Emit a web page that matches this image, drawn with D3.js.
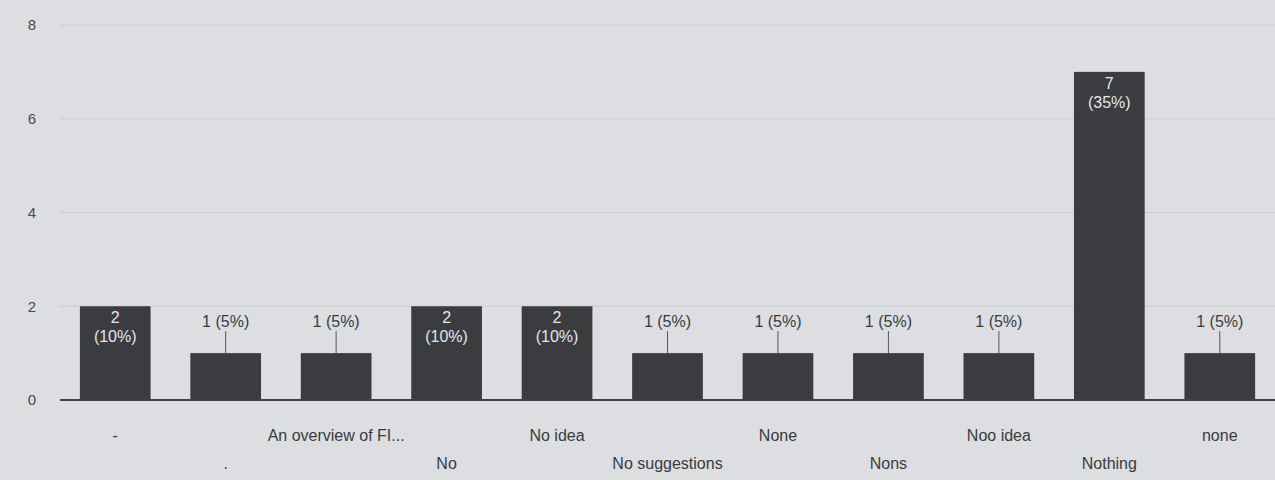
<!DOCTYPE html>
<html>
<head>
<meta charset="utf-8">
<script src="https://cdn.jsdelivr.net/npm/d3@7"></script>
<style>
  html, body { margin: 0; padding: 0; background: #dcdee1; }
  svg { display: block; font-family: "Liberation Sans", Arial, sans-serif; }
</style>
</head>
<body>
<svg id="chart" width="1275" height="480"></svg>
<script>
const categories = ["-", ".", "An overview of FI...", "No", "No idea", "No suggestions", "None", "Nons", "Noo idea", "Nothing", "none"];
const counts = [2, 1, 1, 2, 2, 1, 1, 1, 1, 7, 1];
const percents = [10, 5, 5, 10, 10, 5, 5, 5, 5, 35, 5];
const yTicks = [0, 2, 4, 6, 8];

const W = 1275, H = 480;
const margin = { left: 60, right: 0, top: 25, bottom: 80 };
const svg = d3.select("#chart");

svg.append("rect").attr("width", W).attr("height", H).attr("fill", "#dcdee1");

const x = d3.scaleBand().domain(categories).range([margin.left, W - margin.right])
  .paddingInner(0.36).paddingOuter(0.18);
const y = d3.scaleLinear().domain([0, 8]).range([H - margin.bottom, margin.top]);

// gridlines
svg.append("g").selectAll("line").data(yTicks.filter(d => d > 0)).join("line")
  .attr("x1", margin.left).attr("x2", W)
  .attr("y1", d => y(d)).attr("y2", d => y(d))
  .attr("stroke", "#cbcdd1").attr("stroke-width", 1);

// y axis labels
const yAxis = d3.axisLeft(y).tickValues(yTicks).tickSize(0).tickPadding(0);
const ya = svg.append("g").attr("transform", `translate(36,0)`).call(yAxis);
ya.select(".domain").remove();
ya.selectAll("text").attr("fill", "#4a4b4e").attr("font-size", 15)
  .attr("font-family", "\"Liberation Sans\", Arial, sans-serif");

const data = categories.map((c, i) => ({ c, v: counts[i], p: percents[i], i }));

// bars
svg.append("g").selectAll("rect").data(data).join("rect")
  .attr("x", d => x(d.c)).attr("width", x.bandwidth())
  .attr("y", d => y(d.v)).attr("height", d => y(0) - y(d.v))
  .attr("fill", "#3b3c40");

// baseline axis
svg.append("line").attr("x1", margin.left).attr("x2", W)
  .attr("y1", y(0)).attr("y2", y(0)).attr("stroke", "#3f4044").attr("stroke-width", 2);

// value labels
const lab = svg.append("g").attr("font-size", 16);
data.forEach(d => {
  const cx = x(d.c) + x.bandwidth() / 2;
  if (d.v >= 2) {
    lab.append("text").attr("x", cx).attr("y", y(d.v) + 17).attr("text-anchor", "middle")
      .attr("fill", "#e4e5e8").text(d.v);
    lab.append("text").attr("x", cx).attr("y", y(d.v) + 36).attr("text-anchor", "middle")
      .attr("fill", "#e4e5e8").text(`(${d.p}%)`);
  } else {
    lab.append("line").attr("x1", cx).attr("x2", cx)
      .attr("y1", y(d.v) - 22).attr("y2", y(d.v)).attr("stroke", "#55565a").attr("stroke-width", 1);
    lab.append("text").attr("x", cx).attr("y", y(d.v) - 26).attr("text-anchor", "middle")
      .attr("fill", "#3a3b3e").text(`${d.v} (${d.p}%)`);
  }
});

// category labels (staggered in two rows)
const xAxis = d3.axisBottom(x).tickSize(0).tickPadding(0);
const xa = svg.append("g").attr("transform", `translate(0,${y(0)})`).call(xAxis);
xa.select(".domain").remove();
xa.selectAll("text")
  .attr("font-size", 16).attr("fill", "#3a3b3e")
  .attr("font-family", "\"Liberation Sans\", Arial, sans-serif")
  .attr("dy", null)
  .attr("y", (d, i) => i % 2 === 0 ? 41 : 69);
</script>
</body>
</html>
